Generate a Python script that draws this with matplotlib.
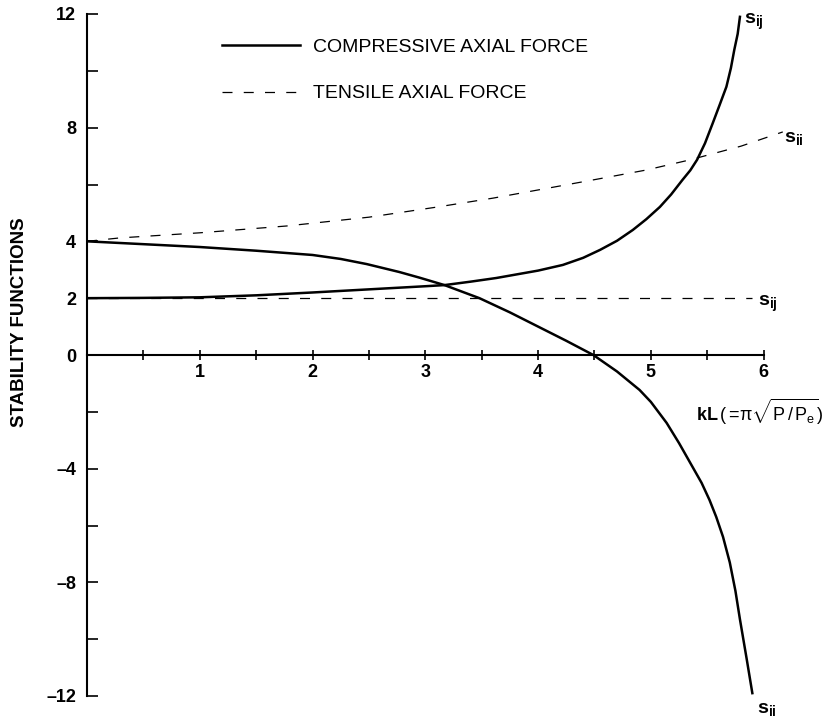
import numpy as np
import matplotlib
matplotlib.use('Agg')
import matplotlib.pyplot as plt

plt.rcParams['font.family'] = ['Liberation Sans', 'DejaVu Sans']
plt.rcParams['mathtext.fontset'] = 'custom'
plt.rcParams['mathtext.rm'] = 'Liberation Sans'
plt.rcParams['mathtext.it'] = 'Liberation Sans'
plt.rcParams['mathtext.bf'] = 'Liberation Sans:bold'

# compressive axial force
comp_kl_ii = [0, 0.5, 1, 1.5, 2, 2.25, 2.48, 2.77, 2.95, 3.17, 3.48, 3.75, 4.0, 4.25, 4.49,
              4.7, 4.9, 5.0, 5.14, 5.25, 5.35, 5.45, 5.52, 5.58, 5.64, 5.7, 5.75, 5.79, 5.85, 5.9]
comp_s_ii = [4.0, 3.9, 3.8, 3.67, 3.52, 3.38, 3.2, 2.92, 2.72, 2.46, 2.0, 1.5, 1.0, 0.5, 0.0,
             -0.58, -1.23, -1.65, -2.39, -3.1, -3.8, -4.5, -5.1, -5.7, -6.4, -7.3, -8.3, -9.3, -10.7, -11.9]

comp_kl_ij = [0, 0.5, 1, 1.5, 2, 2.5, 3, 3.17, 3.4, 3.63, 4.0, 4.22, 4.4, 4.55, 4.7, 4.84,
              4.96, 5.08, 5.18, 5.28, 5.35, 5.41, 5.48, 5.55, 5.61, 5.67, 5.71, 5.74, 5.77, 5.79]
comp_s_ij = [2.0, 2.01, 2.03, 2.1, 2.2, 2.31, 2.42, 2.46, 2.58, 2.71, 2.97, 3.17, 3.42, 3.70, 4.02, 4.40,
             4.78, 5.21, 5.65, 6.16, 6.5, 6.87, 7.45, 8.17, 8.8, 9.44, 10.1, 10.74, 11.3, 11.9]

# tensile axial force
tens_kl_ii = [0, 0.29, 1.0, 1.77, 2.5, 3.11, 3.6, 4.1, 4.5, 4.96, 5.35, 5.8, 6.17]
tens_s_ii = [4.0, 4.12, 4.3, 4.54, 4.85, 5.21, 5.52, 5.88, 6.17, 6.51, 6.87, 7.35, 7.85]

tens_kl_ij = [0, 1, 2, 3, 4, 5, 5.9]
tens_s_ij = [2.0, 2.0, 2.0, 2.0, 2.0, 2.0, 2.0]

x_ticks = [1, 2, 3, 4, 5, 6]
x_minor = [0.5, 1.5, 2.5, 3.5, 4.5, 5.5]
y_ticks = [-12, -10, -8, -6, -4, -2, 0, 2, 4, 6, 8, 10, 12]
y_labels = {-12: '\u201312', -8: '\u20138', -4: '\u20134', 0: '0', 2: '2', 4: '4', 8: '8', 12: '12'}

fig = plt.figure(figsize=(8.25, 7.21), dpi=100)
ax = fig.add_axes([87 / 825, 1 - 696 / 721, (820 - 87) / 825, (696 - 14) / 721])

# curves
ax.plot(comp_kl_ii, comp_s_ii, 'k-', lw=1.8, label='COMPRESSIVE AXIAL FORCE')
ax.plot(comp_kl_ij, comp_s_ij, 'k-', lw=1.8)
ax.plot(tens_kl_ii, tens_s_ii, 'k--', lw=0.9, dashes=(8, 9), label='TENSILE AXIAL FORCE')
ax.plot(tens_kl_ij, tens_s_ij, 'k--', lw=0.9, dashes=(8, 9))

ax.set_xlim(0, 6.5)
ax.set_ylim(-12, 12)

# axes drawn like the original: vertical at 0, horizontal through s = 0
for side in ['top', 'right']:
    ax.spines[side].set_visible(False)
ax.spines['bottom'].set_position(('data', 0))
ax.spines['bottom'].set_bounds(0, 6)
ax.spines['left'].set_bounds(-12, 12)
ax.spines['bottom'].set_linewidth(1.5)
ax.spines['left'].set_linewidth(1.5)

ax.set_xticks(x_ticks)
ax.set_xticks(x_minor, minor=True)
ax.set_xticklabels([str(t) for t in x_ticks], fontsize=13, fontweight='bold')
ax.tick_params(axis='x', which='both', direction='inout', length=6.5, width=1.2, pad=3)

ax.set_yticks(y_ticks)
ax.set_yticklabels([y_labels.get(t, '') for t in y_ticks], fontsize=13, fontweight='bold')
ax.tick_params(axis='y', direction='in', length=8, width=1.2, pad=8)

ax.set_ylabel('STABILITY FUNCTIONS', fontsize=13.5, fontweight='bold')
ax.yaxis.set_label_coords(-0.08, 0.548)

ax.text(6.53, -2.0, r'kL$\,(=\!\pi\sqrt{P\,/\,P_e})$', fontsize=13, fontweight='bold',
        ha='right', va='center', clip_on=False)

# curve end labels
lab = dict(fontsize=14, fontweight='bold', clip_on=False, textcoords='offset points')
ax.annotate(r'$\mathbf{s_{ij}}$', (comp_kl_ij[-1], comp_s_ij[-1]), xytext=(3, -4), ha='left', va='center', **lab)
ax.annotate(r'$\mathbf{s_{ii}}$', (tens_kl_ii[-1], tens_s_ii[-1]), xytext=(1, -5), ha='left', va='center', **lab)
ax.annotate(r'$\mathbf{s_{ij}}$', (tens_kl_ij[-1], tens_s_ij[-1]), xytext=(4, -4), ha='left', va='center', **lab)
ax.annotate(r'$\mathbf{s_{ii}}$', (comp_kl_ii[-1], comp_s_ii[-1]), xytext=(3, -12), ha='left', va='center', **lab)

leg = ax.legend(loc='upper left', bbox_to_anchor=(222 / 825, 1 - 38 / 721),
                bbox_transform=fig.transFigure, frameon=False, fontsize=14,
                handlelength=4.0, handletextpad=0.68, labelspacing=1.5,
                borderpad=0, borderaxespad=0)

fig.savefig('out.png', dpi=100)
